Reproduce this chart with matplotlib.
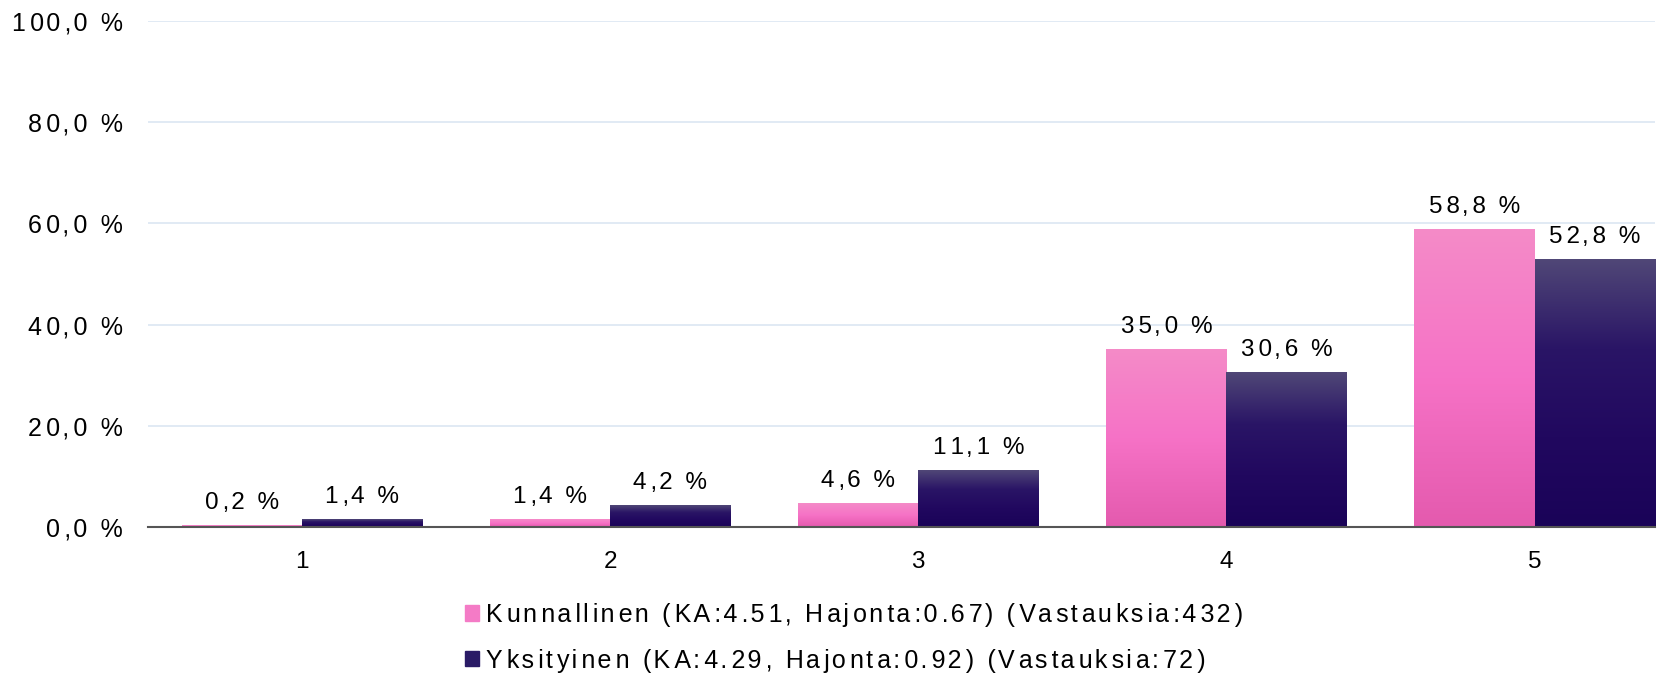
import numpy as np
import matplotlib
matplotlib.use('Agg')
import matplotlib.pyplot as plt
from matplotlib.colors import LinearSegmentedColormap
from matplotlib.patches import Patch

categories = ['1', '2', '3', '4', '5']
kunnallinen = [0.2, 1.4, 4.6, 35.0, 58.8]
yksityinen = [1.4, 4.2, 11.1, 30.6, 52.8]
labels = ['Kunnallinen (KA:4.51, Hajonta:0.67) (Vastauksia:432)',
          'Yksityinen (KA:4.29, Hajonta:0.92) (Vastauksia:72)']
yticks = [0, 20, 40, 60, 80, 100]

plt.rcParams['font.family'] = ['Liberation Sans', 'DejaVu Sans']

pink_cm = LinearSegmentedColormap.from_list('pink', ['#e45aae', '#f672c6', '#f48bc8'])
dark_cm = LinearSegmentedColormap.from_list('dark', ['#1a0358', '#21085f', '#2a1566', '#504777'])


def spaced(s):
    # reference uses wide letter spacing, fake it with hair spaces
    out = s[0]
    for i, c in enumerate(s[1:]):
        out += ('\u200a\u200a' if i % 2 == 0 else '\u200a') + c
    return out


def pct(v):
    return spaced(('%.1f %%' % v).replace('.', ','))


fig = plt.figure(figsize=(16.8, 6.74), dpi=100)
ax = fig.add_axes([0.088, 0.218, 0.897, 0.751])

x = np.arange(len(categories))
w = 0.39
grad = np.linspace(0, 1, 256).reshape(-1, 1)

def gbar(xs, vals, cm, offset):
    for xi, v in zip(xs, vals):
        x0 = xi + offset
        ax.imshow(grad, extent=[x0, x0 + w, 0, v], origin='lower', aspect='auto',
                  cmap=cm, zorder=2)
        ax.text(x0 + w / 2, v + 2.3, pct(v), ha='center', va='bottom', fontsize=17.5)

gbar(x, kunnallinen, pink_cm, -w)
gbar(x, yksityinen, dark_cm, 0)

ax.set_xlim(-0.5, 4.39)
ax.set_ylim(0, 100)
ax.set_yticks(yticks)
ax.set_yticklabels([pct(t) for t in yticks], fontsize=18)
ax.set_xticks(x)
ax.set_xticklabels(categories, fontsize=17.5)
ax.tick_params(length=0, pad=18, axis='y')
ax.tick_params(length=0, pad=17, axis='x')
ax.grid(axis='y', color='#dce6f2', linewidth=1.2, zorder=0)
ax.set_axisbelow(True)
for s in ['top', 'right', 'left']:
    ax.spines[s].set_visible(False)
ax.spines['bottom'].set_color('#555555')
ax.spines['bottom'].set_linewidth(1.5)
ax.spines['bottom'].set_zorder(3)

handles = [Patch(color='#f47bc6'), Patch(color='#2a1b66')]
fig.legend(handles, [spaced(l) for l in labels], loc='upper left',
           bbox_to_anchor=(0.2635, 0.139),
           frameon=False, handlelength=0.56, handleheight=0.56,
           handletextpad=0.28, labelspacing=0.87,
           prop={'family': ['Liberation Sans', 'DejaVu Sans'], 'size': 18})

fig.savefig('out.png', dpi=100)
